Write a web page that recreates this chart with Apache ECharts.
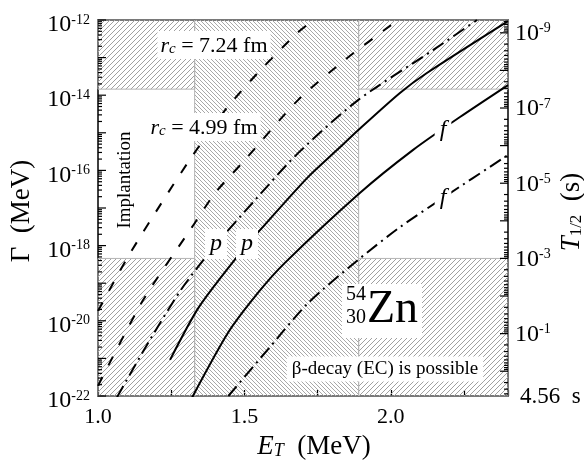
<!DOCTYPE html>
<html>
<head>
<meta charset="utf-8">
<script src="https://cdn.jsdelivr.net/npm/echarts@6/dist/echarts.min.js"></script>
<style>
  html, body { margin: 0; padding: 0; background: #fff; }
  #chart { width: 584px; height: 460px; }
</style>
</head>
<body>
<div id="chart"></div>
<script>
// Half-life conversion: T1/2 = hbar*ln2 / Gamma  (MeV·s)
const HBAR_LN2 = 4.562e-22;

// Axis ranges and tick labels
const xMin = 1.0, xMax = 2.4;
const xTickLabels = ['1.0', '1.5', '2.0'];
const yMin = 1e-22, yMax = 1e-12;
const leftLabelExps = [-12, -14, -16, -18, -20, -22];
const rightLabelExps = [-9, -7, -5, -3, -1];

// Boundaries of the shaded regions
const E_IMPLANT = 1.33;   // MeV
const E_BETA = 1.89;      // MeV
const G_UPPER = 1.45e-14; // MeV
const G_LOWER = 4.56e-19; // MeV (T1/2 = 1 ms)

// Dashed curves
const dashA_E = [1.00, 1.10, 1.215, 1.32, 1.44, 1.555, 1.68, 1.735];
const dashA_G = [1.82e-20, 4.68e-19, 1.29e-17, 2.29e-16, 4.57e-15, 4.68e-14, 4.47e-13, 1.0e-12];
const dashB_E = [1.00, 1.154, 1.321, 1.40, 1.502, 1.683, 1.843, 2.024];
const dashB_G = [1.86e-22, 3.55e-20, 3.09e-18, 2.51e-17, 1.91e-16, 7.41e-15, 8.71e-14, 1.0e-12];

// Dash-dot curves (p and f)
const dotA_E = [1.065, 1.171, 1.283, 1.393, 1.536, 1.683, 1.888, 2.144, 2.294];
const dotA_G = [9.33e-23, 2.57e-21, 6.61e-20, 8.71e-19, 1.62e-17, 2.88e-16, 7.41e-15, 1.58e-13, 1.0e-12];
const dotB_E = [1.445, 1.587, 1.717, 1.888, 2.031, 2.178, 2.40];
const dotB_G = [1.0e-22, 2.0e-21, 2.95e-20, 4.17e-19, 3.09e-18, 1.86e-17, 2.57e-16];

// Solid curves (p and f)
const solidA_E = [1.246, 1.345, 1.485, 1.560, 1.717, 1.816, 1.888, 2.031, 2.123, 2.40];
const solidA_G = [9.12e-22, 2.34e-20, 6.31e-19, 2.95e-18, 6.61e-17, 3.47e-16, 1.17e-15, 1.15e-14, 3.89e-14, 9.33e-13];
const solidB_E = [1.320, 1.444, 1.546, 1.638, 1.894, 2.075, 2.236, 2.40];
const solidB_G = [8.71e-23, 4.79e-21, 5.50e-20, 3.47e-19, 2.51e-17, 3.47e-16, 2.63e-15, 1.86e-14];

const FONT = '"Liberation Serif", "Times New Roman", serif';

function zip(a, b) { return a.map((v, i) => [v, b[i]]); }

// Diagonal hatch tiles
function hatch(size, rising, color, width) {
  const c = document.createElement('canvas');
  c.width = c.height = size;
  const ctx = c.getContext('2d');
  ctx.strokeStyle = color;
  ctx.lineWidth = width;
  ctx.beginPath();
  if (rising) {
    ctx.moveTo(0, size); ctx.lineTo(size, 0);
    ctx.moveTo(-1, 1); ctx.lineTo(1, -1);
    ctx.moveTo(size - 1, size + 1); ctx.lineTo(size + 1, size - 1);
  } else {
    ctx.moveTo(0, 0); ctx.lineTo(size, size);
    ctx.moveTo(size - 1, -1); ctx.lineTo(size + 1, 1);
    ctx.moveTo(-1, size - 1); ctx.lineTo(1, size + 1);
  }
  ctx.stroke();
  return c;
}
const patterns = [
  { image: hatch(5, true, '#a0a0a0', 1), repeat: 'repeat' },
  { image: hatch(4, false, '#a8a8a8', 1), repeat: 'repeat' }
];

// [x0, x1, y0, y1, pattern]
const regions = [
  [E_IMPLANT, E_BETA, yMin, yMax, 1],
  [xMin, E_IMPLANT, G_UPPER, yMax, 0],
  [E_BETA, xMax, G_UPPER, yMax, 0],
  [xMin, E_IMPLANT, yMin, G_LOWER, 0],
  [E_BETA, xMax, yMin, G_LOWER, 0]
];

// Tick marks along the Gamma (left) and T1/2 (right) axes
const leftTicks = [];
for (let e = -22; e <= -12; e++) {
  leftTicks.push([xMin, Math.pow(10, e), 1]);
  if (e < -12) for (let k = 2; k <= 9; k++) leftTicks.push([xMin, k * Math.pow(10, e), 0]);
}
const rightTicks = [];
for (let e = -10; e <= 0; e++) {
  for (let k = 1; k <= 9; k++) {
    const t = k * Math.pow(10, e);
    const g = HBAR_LN2 / t;
    if (g <= yMax && g >= yMin) rightTicks.push([xMax, g, k === 1 ? 1 : 0]);
  }
}

const supRich = {
  a: { fontSize: 24, fontFamily: FONT, lineHeight: 24, verticalAlign: 'bottom', fill: '#000' },
  b: { fontSize: 14, fontFamily: FONT, lineHeight: 14, verticalAlign: 'top', fill: '#000' }
};

const chart = echarts.init(document.getElementById('chart'), null, { renderer: 'canvas' });

function curve(name, E, G, type) {
  return {
    name, type: 'line', data: zip(E, G), symbol: 'none',
    smooth: 0.25, clip: true, z: 5,
    lineStyle: { color: '#000', width: 2, type }
  };
}

chart.setOption({
  animation: false,
  backgroundColor: '#fff',
  grid: { left: 98, right: 76, top: 20, bottom: 64, show: true, borderColor: '#000', borderWidth: 1.5, backgroundColor: 'transparent' },
  xAxis: {
    type: 'value', min: xMin, max: xMax, interval: 0.25,
    axisLine: { show: false },
    axisTick: { inside: true, length: 6, lineStyle: { color: '#000', width: 1.2 } },
    axisLabel: {
      margin: 10, color: '#000', fontSize: 22, fontFamily: FONT,
      formatter: v => { const s = v.toFixed(1); return xTickLabels.includes(s) && Math.abs(v - Number(s)) < 1e-9 ? s : ''; }
    },
    splitLine: { show: false }
  },
  yAxis: {
    type: 'log', logBase: 10, min: yMin, max: yMax,
    axisLine: { show: false }, axisTick: { show: false }, axisLabel: { show: false }, splitLine: { show: false }
  },
  series: [
    {
      type: 'custom', name: 'regions', z: 1, clip: false,
      data: regions, encode: { x: [0, 1], y: [2, 3] },
      renderItem: (params, api) => {
        const p0 = api.coord([api.value(0), api.value(3)]);
        const p1 = api.coord([api.value(1), api.value(2)]);
        return {
          type: 'rect',
          shape: { x: p0[0], y: p0[1], width: p1[0] - p0[0], height: p1[1] - p0[1] },
          style: { fill: patterns[api.value(4)], stroke: '#b4b4b4', lineWidth: 1 }
        };
      }
    },
    curve('dashA', dashA_E, dashA_G, [10, 13]),
    curve('dashB', dashB_E, dashB_G, [10, 13]),
    curve('dotA', dotA_E, dotA_G, [13, 5, 2, 5]),
    curve('dotB', dotB_E, dotB_G, [13, 5, 2, 5]),
    curve('solidA', solidA_E, solidA_G, 'solid'),
    curve('solidB', solidB_E, solidB_G, 'solid'),
    {
      type: 'custom', name: 'leftTicks', z: 6, clip: false, data: leftTicks,
      renderItem: (params, api) => {
        const p = api.coord([api.value(0), api.value(1)]);
        const len = api.value(2) ? 8 : 4;
        return { type: 'line', shape: { x1: p[0], y1: p[1], x2: p[0] + len, y2: p[1] }, style: { stroke: '#000', lineWidth: 1.2 } };
      }
    },
    {
      type: 'custom', name: 'rightTicks', z: 6, clip: false, data: rightTicks,
      renderItem: (params, api) => {
        const p = api.coord([api.value(0), api.value(1)]);
        const len = api.value(2) ? 8 : 4;
        return { type: 'line', shape: { x1: p[0], y1: p[1], x2: p[0] - len, y2: p[1] }, style: { stroke: '#000', lineWidth: 1.2 } };
      }
    },
    {
      type: 'custom', name: 'leftLabels', z: 6, clip: false,
      data: leftLabelExps.map(e => [xMin, Math.pow(10, e), e]),
      renderItem: (params, api) => {
        const p = api.coord([api.value(0), api.value(1)]);
        return {
          type: 'text', x: p[0] - 8, y: p[1] + 5,
          style: { text: '{a|10}{b|' + api.value(2) + '}', rich: supRich, align: 'right', verticalAlign: 'middle' }
        };
      }
    },
    {
      type: 'custom', name: 'rightLabels', z: 6, clip: false,
      data: rightLabelExps.map(e => [xMax, HBAR_LN2 / Math.pow(10, e), e]),
      renderItem: (params, api) => {
        const p = api.coord([api.value(0), api.value(1)]);
        return {
          type: 'text', x: p[0] + 7, y: p[1] + 1,
          style: { text: '{a|10}{b|' + api.value(2) + '}', rich: supRich, align: 'left', verticalAlign: 'middle' }
        };
      }
    },
    {
      type: 'custom', name: 'rightEnd', z: 6, clip: false,
      data: [[xMax, yMin]],
      renderItem: (params, api) => {
        const p = api.coord([api.value(0), api.value(1)]);
        const t = (HBAR_LN2 / api.value(1)).toFixed(2);
        return {
          type: 'text', x: p[0] + 12, y: p[1] + 1,
          style: { text: t + '  s', fontSize: 23, fontFamily: FONT, fill: '#000', align: 'left', verticalAlign: 'middle' }
        };
      }
    }
  ],
  graphic: [
    // axis titles
    {
      type: 'text', x: 22, y: 211, rotation: Math.PI / 2, z: 10,
      style: { text: 'Γ  (MeV)', fontSize: 27, fontFamily: FONT, fill: '#000', align: 'center', verticalAlign: 'middle' }
    },
    {
      type: 'text', x: 571, y: 212, rotation: Math.PI / 2, z: 10,
      style: {
        text: '{i|T}{s|1/2}{n|  (s)}', align: 'center', verticalAlign: 'middle',
        rich: {
          i: { fontSize: 27, fontFamily: FONT, fontStyle: 'italic', lineHeight: 28, verticalAlign: 'bottom', fill: '#000' },
          s: { fontSize: 17, fontFamily: FONT, lineHeight: 12, verticalAlign: 'bottom', fill: '#000' },
          n: { fontSize: 27, fontFamily: FONT, lineHeight: 28, verticalAlign: 'bottom', fill: '#000' }
        }
      }
    },
    {
      type: 'text', x: 314, y: 446, z: 10,
      style: {
        text: '{i|E}{s|T}{n|  (MeV)}', align: 'center', verticalAlign: 'middle',
        rich: {
          i: { fontSize: 27, fontFamily: FONT, fontStyle: 'italic', lineHeight: 28, verticalAlign: 'bottom', fill: '#000' },
          s: { fontSize: 18, fontFamily: FONT, fontStyle: 'italic', lineHeight: 12, verticalAlign: 'bottom', fill: '#000' },
          n: { fontSize: 27, fontFamily: FONT, lineHeight: 28, verticalAlign: 'bottom', fill: '#000' }
        }
      }
    },
    // annotations
    {
      type: 'text', x: 125, y: 180, rotation: Math.PI / 2, z: 10,
      style: { text: 'Implantation', fontSize: 19, fontFamily: FONT, fill: '#000', align: 'center', verticalAlign: 'middle' }
    },
    {
      type: 'text', x: 214, y: 45, z: 10,
      style: {
        text: '{i|r}{s|c}{n| = 7.24 fm}', align: 'center', verticalAlign: 'middle',
        backgroundColor: '#fff', padding: [2, 3, 2, 3],
        rich: {
          i: { fontSize: 22, fontFamily: FONT, fontStyle: 'italic', lineHeight: 24, verticalAlign: 'bottom', fill: '#000' },
          s: { fontSize: 15, fontFamily: FONT, fontStyle: 'italic', lineHeight: 10, verticalAlign: 'bottom', fill: '#000' },
          n: { fontSize: 22, fontFamily: FONT, lineHeight: 24, verticalAlign: 'bottom', fill: '#000' }
        }
      }
    },
    {
      type: 'text', x: 204, y: 127, z: 10,
      style: {
        text: '{i|r}{s|c}{n| = 4.99 fm}', align: 'center', verticalAlign: 'middle',
        backgroundColor: '#fff', padding: [2, 3, 2, 3],
        rich: {
          i: { fontSize: 22, fontFamily: FONT, fontStyle: 'italic', lineHeight: 24, verticalAlign: 'bottom', fill: '#000' },
          s: { fontSize: 15, fontFamily: FONT, fontStyle: 'italic', lineHeight: 10, verticalAlign: 'bottom', fill: '#000' },
          n: { fontSize: 22, fontFamily: FONT, lineHeight: 24, verticalAlign: 'bottom', fill: '#000' }
        }
      }
    },
    {
      type: 'text', x: 216, y: 244, z: 10,
      style: { text: 'p', fontSize: 24, fontFamily: FONT, fontStyle: 'italic', fill: '#000', align: 'center', verticalAlign: 'middle', backgroundColor: '#fff', padding: [3, 5, 3, 5] }
    },
    {
      type: 'text', x: 247, y: 244, z: 10,
      style: { text: 'p', fontSize: 24, fontFamily: FONT, fontStyle: 'italic', fill: '#000', align: 'center', verticalAlign: 'middle', backgroundColor: '#fff', padding: [3, 5, 3, 5] }
    },
    {
      type: 'text', x: 443, y: 130, z: 10,
      style: { text: 'f', fontSize: 24, fontFamily: FONT, fontStyle: 'italic', fill: '#000', align: 'center', verticalAlign: 'middle', backgroundColor: '#fff', padding: [1, 5, 1, 5] }
    },
    {
      type: 'text', x: 443, y: 198, z: 10,
      style: { text: 'f', fontSize: 24, fontFamily: FONT, fontStyle: 'italic', fill: '#000', align: 'center', verticalAlign: 'middle', backgroundColor: '#fff', padding: [1, 5, 1, 5] }
    },
    {
      type: 'rect', z: 9, shape: { x: 342, y: 284, width: 80, height: 54 }, style: { fill: '#fff' }
    },
    {
      type: 'text', x: 356, y: 295, z: 10,
      style: { text: '54', fontSize: 20, fontFamily: FONT, fill: '#000', align: 'center', verticalAlign: 'middle' }
    },
    {
      type: 'text', x: 356, y: 318, z: 10,
      style: { text: '30', fontSize: 20, fontFamily: FONT, fill: '#000', align: 'center', verticalAlign: 'middle' }
    },
    {
      type: 'text', x: 367, y: 310, z: 10,
      style: { text: 'Zn', fontSize: 46, fontFamily: FONT, fill: '#000', align: 'left', verticalAlign: 'middle' }
    },
    {
      type: 'text', x: 385, y: 369, z: 10,
      style: { text: 'β-decay (EC) is possible', fontSize: 19, fontFamily: FONT, fill: '#000', align: 'center', verticalAlign: 'middle', backgroundColor: '#fff', padding: [3, 5, 3, 5] }
    }
  ]
});
</script>
</body>
</html>
